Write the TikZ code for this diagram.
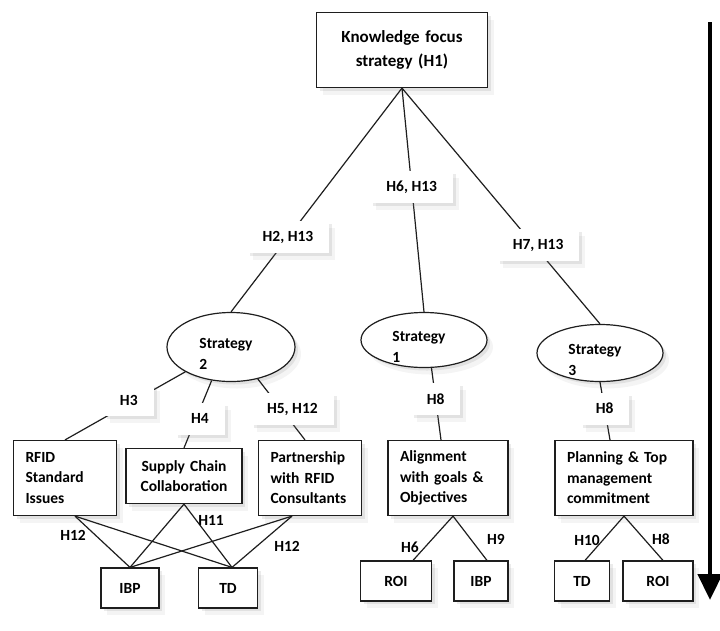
\documentclass[tikz,border=0pt]{standalone}
\usepackage{fontspec}
\setmainfont{Carlito}
\usepackage{tikz}
\usetikzlibrary{shapes.geometric, arrows.meta, shadows}
\definecolor{ink}{HTML}{1E1E1E}
\tikzset{
  soft/.style={drop shadow={shadow xshift=3pt, shadow yshift=-3pt, opacity=.16}, drop shadow={shadow xshift=6pt, shadow yshift=-7pt, opacity=.09}},
  box/.style={rectangle, draw=ink, line width=1.2pt, fill=white, soft, align=left, inner xsep=12pt, inner ysep=0pt, font=\fontsize{15.5}{20.5}\selectfont\bfseries},
  leaf/.style={box, align=center, inner xsep=0pt, minimum height=40pt},
  strat/.style={ellipse, draw=ink, line width=1.2pt, fill=white, soft, inner sep=0pt},
  stratlbl/.style={align=left, xshift=-5pt, yshift=-7pt, font=\fontsize{15.5}{20.5}\selectfont\bfseries},
  tag/.style={rectangle, fill=white, soft, minimum width=48pt, minimum height=32pt, inner xsep=16pt, font=\fontsize{15.5}{18}\selectfont\bfseries},
  hyp/.style={inner sep=1pt, font=\fontsize{15.5}{18}\selectfont\bfseries},
  link/.style={draw=ink, line width=1.2pt},
  timearrow/.style={-{Triangle[length=26pt, width=24pt]}, line width=4.5pt, color=black},
}
\begin{document}
\begin{tikzpicture}[x=1pt, y=-1pt]
  \useasboundingbox (0,0) rectangle (720,630);
  \node[box, align=center, text width=147pt, minimum height=75pt, font=\fontsize{17}{24}\selectfont\bfseries] (top) at (402,50) {Knowledge focus\\strategy (H1)};
  \node[strat, minimum width=128pt, minimum height=69pt, label={[stratlbl]center:Strategy\\2}] (s2) at (231,347) {};
  \node[strat, minimum width=126pt, minimum height=55pt, label={[stratlbl]center:Strategy\\1}] (s1) at (424,340) {};
  \node[strat, minimum width=126pt, minimum height=57pt, label={[stratlbl]center:Strategy\\3}] (s3) at (600,353) {};
  \node[box, text width=79pt, minimum height=75pt] (rfid) at (65,478) {RFID\\Standard\\Issues};
  \node[box, align=center, text width=92pt, minimum height=55pt] (sc) at (184,476) {Supply Chain\\Collaboration};
  \node[box, text width=79pt, minimum height=75pt] (pt) at (310,478) {Partnership\\with RFID\\Consultants};
  \node[box, text width=96pt, minimum height=75pt] (al) at (448,478) {Alignment\\with goals \&\\Objectives};
  \node[box, text width=114pt, minimum height=75pt] (pl) at (624,478) {Planning \& Top\\management\\commitment};
  \node[leaf, minimum width=58pt] (ibp1) at (130,588) {IBP};
  \node[leaf, minimum width=59pt] (td1) at (228,588) {TD};
  \node[leaf, minimum width=71pt] (roi1) at (396,581) {ROI};
  \node[leaf, minimum width=54pt] (ibp2) at (481,581) {IBP};
  \node[leaf, minimum width=55pt] (td2) at (582,581) {TD};
  \node[leaf, minimum width=70pt] (roi2) at (658,581) {ROI};
  \draw[link] (top.south) -- node[tag, pos=.667] (h2) {H2, H13} (s2.north);
  \draw[link] (top.south) -- node[tag, pos=.444] (h6) {H6, H13} (s1.north);
  \draw[link] (top.south) -- node[tag, pos=.667, xshift=4pt] (h7) {H7, H13} (s3.north);
  \draw[link] (s2.south west) -- node[tag, pos=.42, xshift=-6pt] (h3) {H3} (rfid.north);
  \draw[link] (s2.240) -- node[tag, pos=.57, xshift=4pt] (h4) {H4} (sc.north);
  \draw[link] (s2.310) -- node[tag, pos=.5, xshift=11pt] (h5) {H5, H12} ([xshift=-5pt]pt.north);
  \draw[link] (s1.-75) -- node[tag, pos=.43] (h8a) {H8} ([xshift=-7pt]al.north);
  \draw[link] (s3.south) -- node[tag, pos=.46] (h8b) {H8} ([xshift=-14pt]pl.north);
  \draw[link] ([xshift=10pt]rfid.south) -- (ibp1.north);
  \draw[link] ([xshift=10pt]rfid.south) -- ([xshift=4pt]td1.north);
  \draw[link] (sc.south) -- (ibp1.north);
  \draw[link] (sc.south) -- ([xshift=4pt]td1.north);
  \draw[link] ([xshift=-18pt]pt.south) -- (ibp1.north);
  \draw[link] ([xshift=-18pt]pt.south) -- ([xshift=4pt]td1.north);
  \draw[link] ([xshift=5pt]al.south) -- ([xshift=17pt]roi1.north);
  \draw[link] ([xshift=5pt]al.south) -- ([xshift=6pt]ibp2.north);
  \draw[link] (pl.south) -- ([xshift=3pt]td2.north);
  \draw[link] (pl.south) -- ([xshift=5pt]roi2.north);
  \node[hyp] (h12a) at (73,535) {H12};
  \node[hyp] (h11) at (211,520) {H11};
  \node[hyp] (h12b) at (287,546) {H12};
  \node[hyp] (h6b) at (410,547) {H6};
  \node[hyp] (h9) at (496,539) {H9};
  \node[hyp] (h10) at (587,540) {H10};
  \node[hyp] (h8c) at (661,539) {H8};
  \coordinate (tstart) at (710,22);
  \coordinate (tend) at (710,600);
  \draw[timearrow] (tstart) -- (tend);
\end{tikzpicture}
\end{document}
